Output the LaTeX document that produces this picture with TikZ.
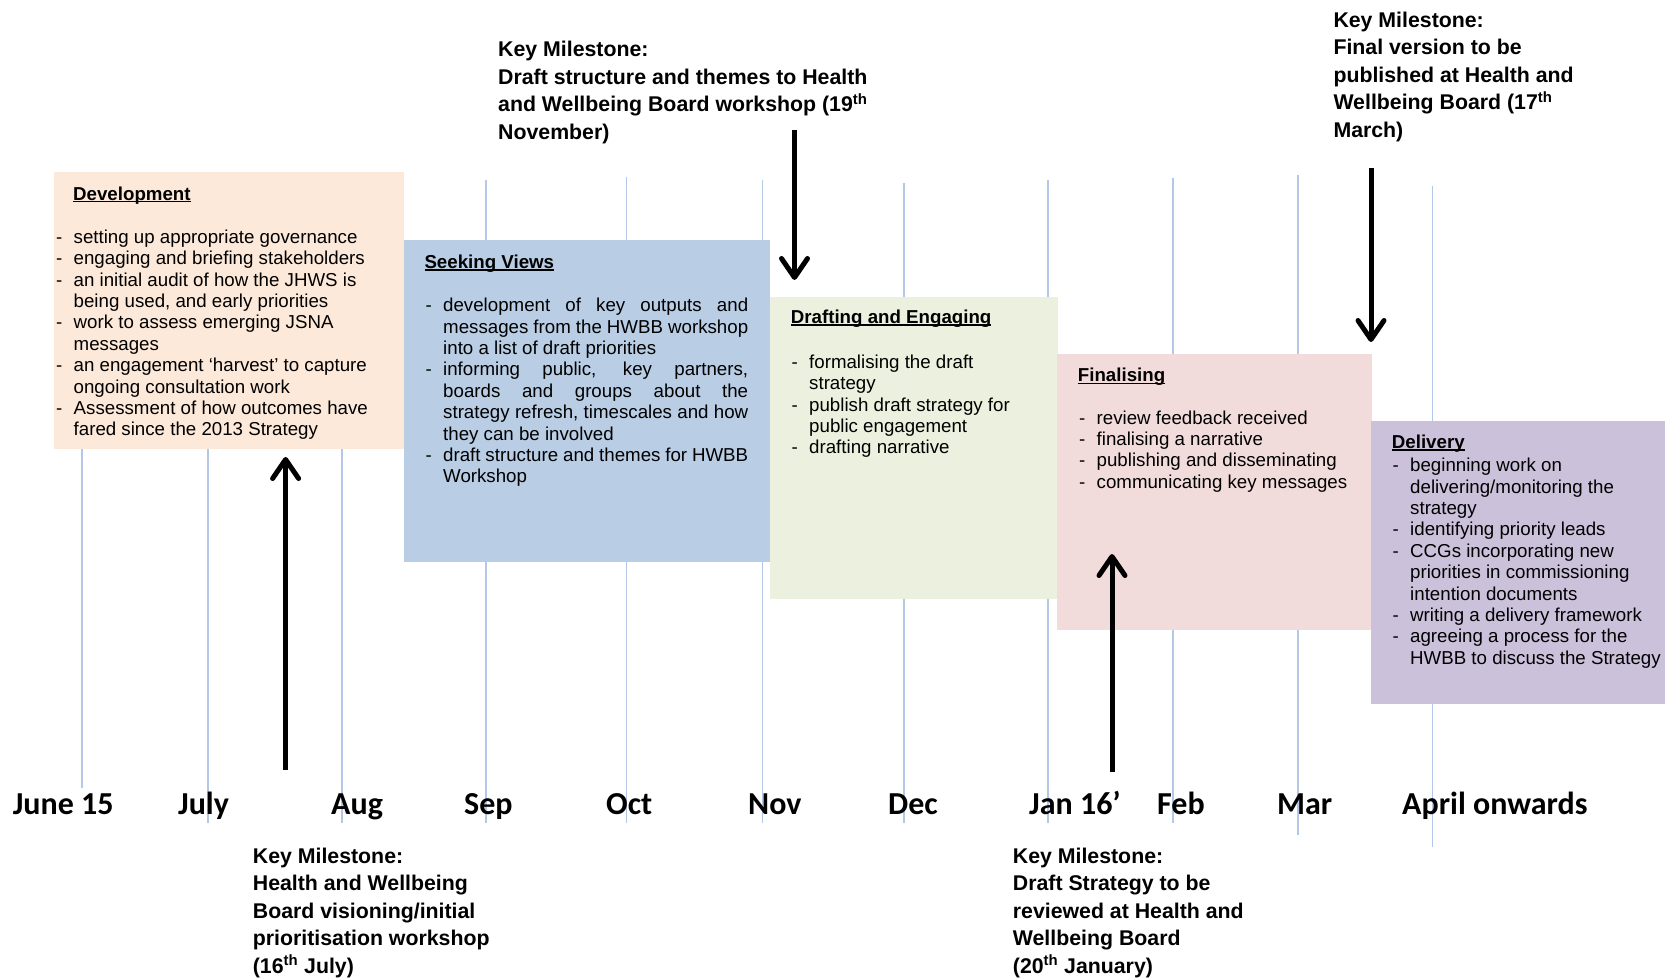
\documentclass[tikz,border=0pt]{standalone}
\usepackage{fontspec}
\setmainfont{Liberation Sans}
\newfontfamily\calibfont{Carlito}
\usetikzlibrary{arrows.meta}

\definecolor{devc}{HTML}{FDE9D9}
\definecolor{seekc}{HTML}{B9CDE5}
\definecolor{draftc}{HTML}{EBF1DE}
\definecolor{finc}{HTML}{F2DCDB}
\definecolor{delc}{HTML}{CCC1DA}
\definecolor{gridc}{HTML}{B4C7E7}

\newlength\dashw \setlength\dashw{17.5pt}
\newcommand\itm[1]{\makebox[\dashw][l]{-}#1}
\newcommand\cnt[1]{\hspace*{\dashw}#1}
\newcommand\jst[1]{\makebox[305pt][s]{#1}}
\newcommand\ttl[1]{\setbox0\hbox{\bfseries #1}\rlap{\rule[-2.3pt]{\wd0}{1.3pt}}\box0}
\newcommand\bodyfont{\fontsize{18.7}{21.4}\selectfont}
\newcommand\msfont{\fontsize{21.3}{27.5}\selectfont\bfseries}

\tikzset{
  phasebox/.style={draw=none, inner sep=0, anchor=north west},
  txt/.style={inner sep=0, anchor=base west},
  gridline/.style={draw=gridc, line width=1.5pt},
  msarrow/.style={line width=5pt, -{Straight Barb[length=19pt, width=26pt, line cap=round, line join=round]}},
  month/.style={inner sep=0, anchor=base west, font=\calibfont\bfseries\fontsize{32}{36}\selectfont},
  mstext/.style={inner sep=0, anchor=base west}
}

\begin{document}
\begin{tikzpicture}[x=1pt, y=-1pt]
\useasboundingbox (0,0) rectangle (1665,978);
\clip (0,0) rectangle (1665,978);

% grid lines
\foreach \xx/\ya/\yb in {82/180/788, 208/180/823, 342/180/823, 486/180/823, 626.5/177/823, 762.5/180/823, 904/183/823, 1048/180/823, 1173/178/823, 1298/175/835, 1432.5/186/847}
  \draw[gridline] (\xx,\ya) -- (\xx,\yb);

% phase boxes
\node[phasebox, fill=devc, minimum width=350pt, minimum height=277pt] (dev) at (54,172) {};
\node[phasebox, fill=seekc, minimum width=366pt, minimum height=322pt] (seek) at (404,240) {};
\node[phasebox, fill=draftc, minimum width=288pt, minimum height=302pt] (draft) at (770,297) {};
\node[phasebox, fill=finc, minimum width=315pt, minimum height=276pt] (fin) at (1057,354) {};
\node[phasebox, fill=delc, minimum width=300pt, minimum height=283pt] (del) at (1371,421) {};

% Development
\node[txt] (devh) at (73,200) {\bodyfont\ttl{Development}};
\begin{scope}
\clip (54,172) rectangle (404,438);
\node[txt] (devt) at (56,243.3) {\parbox[t]{400pt}{\raggedright\bodyfont
\itm{setting up appropriate governance}\\
\itm{engaging and briefing stakeholders}\\
\itm{an initial audit of how the JHWS is}\\
\cnt{being used, and early priorities}\\
\itm{work to assess emerging JSNA}\\
\cnt{messages}\\
\itm{an engagement ‘harvest’ to capture}\\
\cnt{ongoing consultation work}\\
\itm{Assessment of how outcomes have}\\
\cnt{fared since the 2013 Strategy}}};
\end{scope}

% Seeking Views
\node[txt] (seekh) at (424.3,268.3) {\bodyfont\ttl{Seeking Views}};
\node[txt] (seekt) at (425.5,311.7) {\parbox[t]{400pt}{\raggedright\bodyfont
\itm{\jst{development of key outputs and}}\\
\cnt{\jst{messages from the HWBB workshop}}\\
\cnt{into a list of draft priorities}\\
\itm{\jst{informing public, key partners,}}\\
\cnt{\jst{boards and groups about the}}\\
\cnt{\jst{strategy refresh, timescales and how}}\\
\cnt{they can be involved}\\
\itm{\jst{draft structure and themes for HWBB}}\\
\cnt{Workshop}}};

% Drafting and Engaging
\node[txt] (drafth) at (790.7,323.3) {\bodyfont\ttl{Drafting and Engaging}};
\node[txt] (draftt) at (791.5,368.3) {\parbox[t]{400pt}{\raggedright\bodyfont
\itm{formalising the draft}\\
\cnt{strategy}\\
\itm{publish draft strategy for}\\
\cnt{public engagement}\\
\itm{drafting narrative}}};

% Finalising
\node[txt] (finh) at (1077.7,381.7) {\bodyfont\ttl{Finalising}};
\node[txt] (fint) at (1079,424) {\parbox[t]{400pt}{\raggedright\bodyfont
\itm{review feedback received}\\
\itm{finalising a narrative}\\
\itm{publishing and disseminating}\\
\itm{communicating key messages}}};

% Delivery
\node[txt] (delh) at (1391.7,448.3) {\bodyfont\ttl{Delivery}};
\node[txt] (delt) at (1392.5,471.7) {\parbox[t]{400pt}{\raggedright\bodyfont
\itm{beginning work on}\\
\cnt{delivering/monitoring the}\\
\cnt{strategy}\\
\itm{identifying priority leads}\\
\itm{CCGs incorporating new}\\
\cnt{priorities in commissioning}\\
\cnt{intention documents}\\
\itm{writing a delivery framework}\\
\itm{agreeing a process for the}\\
\cnt{HWBB to discuss the Strategy}}};

% months
\node[month] (m01) at (12.7,814) {June 15};
\node[month] (m02) at (178,814) {July};
\node[month] (m03) at (331,814) {Aug};
\node[month] (m04) at (464,814) {Sep};
\node[month] (m05) at (606,814) {Oct};
\node[month] (m06) at (748,814) {Nov};
\node[month] (m07) at (888,814) {Dec};
\node[month] (m08) at (1029,814) {Jan 16’};
\node[month] (m09) at (1157,814) {Feb};
\node[month] (m10) at (1277,814) {Mar};
\node[month] (m11) at (1402,814) {April onwards};

% milestones
\node[mstext] (ms1) at (498,56.7) {\parbox[t]{420pt}{\raggedright\msfont
Key Milestone:\\
Draft structure and themes to Health\\
and Wellbeing Board workshop (19\textsuperscript{th}\\
November)}};
\node[mstext] (ms2) at (1333.3,27.3) {\parbox[t]{330pt}{\raggedright\msfont
Key Milestone:\\
Final version to be\\
published at Health and\\
Wellbeing Board (17\textsuperscript{th}\\
March)}};
\node[mstext] (ms3) at (252.7,863.3) {\parbox[t]{330pt}{\raggedright\msfont
Key Milestone:\\
Health and Wellbeing\\
Board visioning/initial\\
prioritisation workshop\\
(16\textsuperscript{th} July)}};
\node[mstext] (ms4) at (1012.7,863.3) {\parbox[t]{330pt}{\raggedright\msfont
Key Milestone:\\
Draft Strategy to be\\
reviewed at Health and\\
Wellbeing Board\\
(20\textsuperscript{th} January)}};

% arrows
\coordinate (a1s) at (794.5,130);  \coordinate (a1e) at (794.5,280);
\coordinate (a2s) at (1371,168); \coordinate (a2e) at (1371,342);
\coordinate (a3s) at (285.6,770); \coordinate (a3e) at (285.6,457);
\coordinate (a4s) at (1112,772); \coordinate (a4e) at (1112,554);
\draw[msarrow] (a1s) -- (a1e);
\draw[msarrow] (a2s) -- (a2e);
\draw[msarrow] (a3s) -- (a3e);
\draw[msarrow] (a4s) -- (a4e);
\end{tikzpicture}
\end{document}
